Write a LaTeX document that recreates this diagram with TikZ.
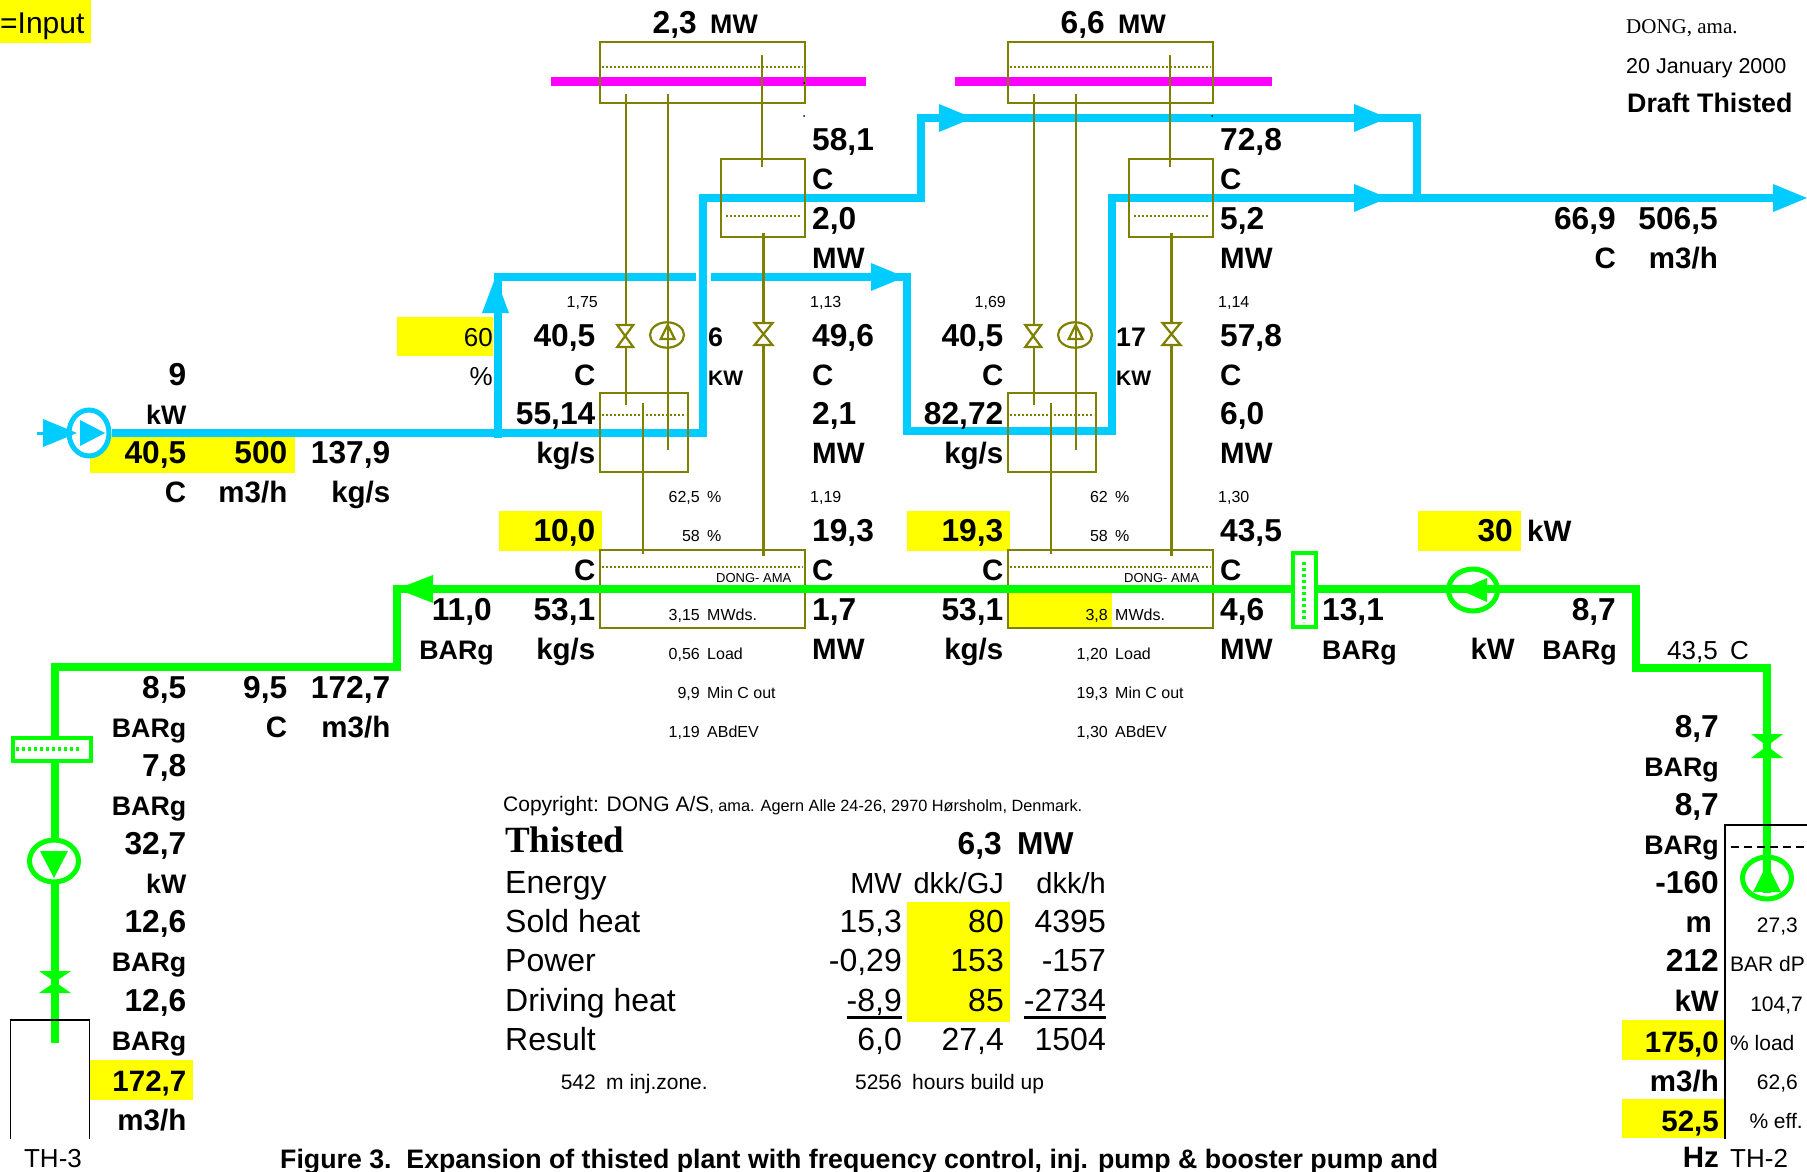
\documentclass[tikz,border=0pt]{standalone}
\usepackage{fontspec}
\setmainfont{Liberation Sans}
\newfontfamily\serifThisted{Liberation Serif}
\usetikzlibrary{shapes.geometric}
\definecolor{pipeBlue}{rgb}{0,0.8,1}
\definecolor{pipeGreen}{rgb}{0,1,0}
\definecolor{boxOlive}{rgb}{0.5,0.5,0}
\definecolor{inputYellow}{rgb}{1,1,0}
\definecolor{barMagenta}{rgb}{1,0,1}
\tikzset{
  lf/.style={anchor=base west},
  rt/.style={anchor=base east},
  ct/.style={anchor=base},
  bigval/.style={inner sep=0pt,font=\bfseries\fontsize{31.7}{36}\selectfont},
  unitval/.style={inner sep=0pt,font=\bfseries\fontsize{29.5}{32}\selectfont},
  smallunit/.style={inner sep=0pt,font=\bfseries\fontsize{26.8}{30}\selectfont},
  midtext/.style={inner sep=0pt,font=\fontsize{26}{30}\selectfont},
  tabletext/.style={inner sep=0pt,font=\fontsize{32}{35}\selectfont},
  headtext/.style={inner sep=0pt,font=\fontsize{29}{35}\selectfont},
  sidetext/.style={inner sep=0pt,font=\fontsize{21}{25}\selectfont},
  smalltext/.style={inner sep=0pt,font=\fontsize{16}{20}\selectfont},
  bluepipe/.style={draw=pipeBlue,line width=8pt,line join=miter},
  greenpipe/.style={draw=pipeGreen,line width=8pt,line join=miter},
  olivebox/.style={draw=boxOlive,line width=2.2pt},
  oliveline/.style={draw=boxOlive,line width=2.2pt},
  olivedots/.style={draw=boxOlive,line width=2pt,dash pattern=on 2pt off 2pt},
  bluepump/.style={ellipse,draw=pipeBlue,line width=5pt,fill=white,minimum width=40pt,minimum height=46pt,inner sep=0pt},
  greenpump/.style={ellipse,draw=pipeGreen,line width=5pt,minimum width=49pt,minimum height=42pt,inner sep=0pt},
}
\begin{document}
\begin{tikzpicture}[x=1pt,y=-1pt]
	\useasboundingbox (0,0) rectangle (1807,1172);
	% yellow input cells
	\foreach \xa/\ya/\xb/\yb in {0/0/91/43, 397/317/493/356, 90/433/295/473, 499/511/602/551, 907/511/1010/551, 1418/511/1521/551, 90/1060/193/1100, 1622/1020/1725/1060, 1622/1099/1725/1138, 907/902/1010/1022, 1008/590/1112/628}
		\fill[inputYellow] (\xa,\ya) rectangle (\xb,\yb);
	% turbine bars
	\fill[barMagenta] (551,77) rectangle (866,86);
	\fill[barMagenta] (955,77) rectangle (1272,86);
	% blue pipes
	\node[bluepump] (pumpI) at (89,433) {};
	\coordinate (blueA) at (703,433);
	\coordinate (blueB) at (703,198);
	\coordinate (blueC) at (921,198);
	\coordinate (blueD) at (921,118);
	\coordinate (blueE) at (1417,118);
	\coordinate (blueF) at (1417,198);
	\coordinate (blueG) at (498,438);
	\coordinate (blueH) at (498,277);
	\coordinate (blueJ) at (696,277);
	\coordinate (blueK) at (711,277);
	\coordinate (blueL) at (907,277);
	\coordinate (blueM) at (907,431);
	\coordinate (blueN) at (1112,431);
	\coordinate (blueP) at (1112,198);
	\coordinate (blueQ) at (1780,198);
	\coordinate (blueIn) at (37,433);
	\draw[bluepipe] (pumpI.east) -- (blueA) -- (blueB) -- (blueC) -- (blueD) -- (blueE) -- (blueF);
	\draw[bluepipe] (blueG) -- (blueH) -- (blueJ);
	\draw[bluepipe] (blueK) -- (blueL) -- (blueM) -- (blueN) -- (blueP) -- (blueQ);
	\draw[draw=pipeBlue,line width=3pt] (blueIn) -- (pumpI.west);
	\foreach \hx/\hy in {43/433, 871/277, 939/118, 1354/118, 1354/198, 1773/198}
		\fill[pipeBlue] (\hx,\hy) ++(0,-14) -- ++(34,14) -- ++(-34,14) -- cycle;
	\fill[pipeBlue] (482,313) -- (495.5,277) -- (509,313) -- cycle;
	\fill[pipeBlue] (80,420) -- (105,433) -- (80,446) -- cycle;
	% heat exchanger sets
	\foreach \ox in {0,408} {
		\begin{scope}[xshift=\ox pt]
			\draw[olivebox] (600,42) rectangle (805,103);
			\draw[olivedots] (602,67) -- (803,67);
			\draw[olivebox] (721,159) rectangle (805,237);
			\draw[olivedots] (726,216) -- (801,216);
			\draw[olivebox] (600,393) rectangle (688,472);
			\draw[olivedots] (602,415) -- (686,415);
			\draw[olivebox] (600,550) rectangle (805,628);
			\draw[olivedots] (602,567) -- (803,567);
			\draw[oliveline] (625.7,94) -- (625.7,405);
			\draw[oliveline] (667.7,94) -- (667.7,450);
			\draw[oliveline] (761.7,55) -- (761.7,167);
			\draw[oliveline] (763.5,233) -- (763.5,556);
			\draw[oliveline] (642.7,403) -- (642.7,554);
			\draw[oliveline,fill=white] (617.2,325) -- (633.2,325) -- (617.2,347) -- (633.2,347) -- cycle;
			\draw[oliveline,fill=white] (754.5,323) -- (772.5,323) -- (754.5,345) -- (772.5,345) -- cycle;
			\draw[oliveline] (667,335) ellipse (17 and 12.7);
			\draw[oliveline] (660.7,339) -- (674.7,339) -- (667.7,325) -- cycle;
			\node[inner sep=0pt,font=\fontsize{13}{15}\selectfont,anchor=base west] (dong\ox) at (716,582) {DONG- AMA};
			\fill (804,116) circle (1);
		\end{scope}
	}
	\fill (804,83) circle (1);
	% green pipes
	\coordinate (greenA) at (397,589);
	\coordinate (greenB) at (397,667);
	\coordinate (greenC) at (55,667);
	\coordinate (greenD) at (55,1043);
	\coordinate (greenE) at (1636,589);
	\coordinate (greenF) at (1636,668);
	\coordinate (greenG) at (1767,668);
	\coordinate (greenH) at (1767,893);
	\draw[greenpipe] (greenD) -- (greenC) -- (greenB) -- (greenA) -- (greenE) -- (greenF) -- (greenG) -- (greenH);
	\fill[pipeGreen] (433,575) -- (397,589) -- (433,603) -- cycle;
	\node[greenpump] (pumpB) at (1473,590) {};
	\fill[pipeGreen] (1487,578) -- (1460,590) -- (1487,602) -- cycle;
	\node[greenpump,fill=white] (pumpH) at (54,861) {};
	\fill[pipeGreen] (40,851) -- (68,851) -- (54,878) -- cycle;
	\node[greenpump] (pumpP) at (1767,878) {};
	\fill[pipeGreen] (1753,892) -- (1781,892) -- (1767,864) -- cycle;
	% green filters and valves
	\draw[draw=pipeGreen,line width=3.5pt,fill=white] (13,738) rectangle (91,761);
	\draw[draw=pipeGreen,line width=3.5pt,dash pattern=on 3pt off 3pt] (16,749) -- (82,749);
	\draw[draw=pipeGreen,line width=3.5pt,fill=white] (1293,553) rectangle (1316,627);
	\draw[draw=pipeGreen,line width=3.5pt,dash pattern=on 3pt off 3pt] (1304,562) -- (1304,622);
	\fill[pipeGreen] (39,971) -- (71,971) -- (39,993) -- (71,993) -- cycle;
	\fill[pipeGreen] (1751,734) -- (1783,734) -- (1751,758) -- (1783,758) -- cycle;
	% wells
	\draw[line width=1.5pt] (10.5,1139) -- (10.5,1020) -- (89.5,1020) -- (89.5,1139);
	\draw[line width=1.5pt] (1725,1139) -- (1725,825) -- (1807,825);
	\draw[line width=1.5pt,dash pattern=on 8pt off 5pt] (1731,847) -- (1807,847);
	% sheet values
	\foreach \x/\k/\a/\t [count=\i] in {186.5/9/rt/9, 186.5/11/rt/{40,5}, 287.5/11/rt/500, 390.5/11/rt/{137,9}, 697/0/rt/{2,3}, 1105/0/rt/{6,6},
		812/3/lf/{58,1}, 812/5/lf/{2,0}, 1220/3/lf/{72,8}, 1220/5/lf/{5,2},
		595.5/8/rt/{40,5}, 595.5/10/rt/{55,14}, 595.5/13/rt/{10,0}, 595.5/15/rt/{53,1},
		1003.5/8/rt/{40,5}, 1003.5/10/rt/{82,72}, 1003.5/13/rt/{19,3}, 1003.5/15/rt/{53,1},
		812/8/lf/{49,6}, 812/10/lf/{2,1}, 812/13/lf/{19,3}, 812/15/lf/{1,7},
		1220/8/lf/{57,8}, 1220/10/lf/{6,0}, 1220/13/lf/{43,5}, 1220/15/lf/{4,6},
		492/15/rt/{11,0}, 1322/15/lf/{13,1}, 1616/15/rt/{8,7}, 1513/13/rt/30,
		1616/5/rt/{66,9}, 1718/5/rt/{506,5}, 186.5/17/rt/{8,5}, 186.5/19/rt/{7,8}, 186.5/21/rt/{32,7}, 186.5/23/rt/{12,6}, 186.5/25/rt/{12,6},
		287.5/17/rt/{9,5}, 390.5/17/rt/{172,7}, 1719/18/rt/{8,7}, 1719/20/rt/{8,7}, 1719/22/rt/-160, 1719/24/rt/212,
		1002/21/rt/{6,3}, 1017/21/lf/MW}
		\node[bigval,\a] (val\i) at (\x,{33.5+39.1*\k}) {\t};
	\foreach \x/\k/\a/\t [count=\i] in {186.5/12/rt/C, 287.5/12/rt/{m3/h}, 390.5/12/rt/{kg/s}, 595.5/9/rt/C, 595.5/11/rt/{kg/s}, 595.5/14/rt/C, 595.5/16/rt/{kg/s},
		1003.5/9/rt/C, 1003.5/11/rt/{kg/s}, 1003.5/14/rt/C, 1003.5/16/rt/{kg/s},
		812/4/lf/C, 812/6/lf/MW, 812/9/lf/C, 812/11/lf/MW, 812/14/lf/C, 812/16/lf/MW,
		1220/4/lf/C, 1220/6/lf/MW, 1220/9/lf/C, 1220/11/lf/MW, 1220/14/lf/C, 1220/16/lf/MW,
		1616/6/rt/C, 1718/6/rt/{m3/h}, 287.5/18/rt/C, 390.5/18/rt/{m3/h}, 186.5/28.06/rt/{m3/h}, 1719/27.06/rt/{m3/h}, 1719/29/rt/Hz, 1712/23/rt/m, 1719/25/rt/kW,
		1515/16/rt/kW, 1527/13/lf/kW, 186.5/27.06/rt/{172,7}, 1719/26.06/rt/{175,0}, 1719/28.07/rt/{52,5}}
		\node[unitval,\a] (unit\i) at (\x,{33.5+39.1*\k}) {\t};
	\foreach \x/\k/\a/\t [count=\i] in {710/0/lf/MW, 1118/0/lf/MW, 708/8/lf/6, 1116/8/lf/17, 186.5/10/rt/kW, 186.5/22/rt/kW, 494/16/rt/BARg, 1322/16/lf/BARg, 1617/16/rt/BARg, 186.5/18/rt/BARg, 186.5/20/rt/BARg, 186.5/24/rt/BARg, 186.5/26/rt/BARg, 1719/19/rt/BARg, 1719/21/rt/BARg}
		\node[smallunit,\a] (sunit\i) at (\x,{33.5+39.1*\k}) {\t};
	\node[smallunit,lf,font=\bfseries\fontsize{21}{25}\selectfont] (kwA) at (708,{33.5+39.1*9}) {KW};
	\node[smallunit,lf,font=\bfseries\fontsize{21}{25}\selectfont] (kwB) at (1116,{33.5+39.1*9}) {KW};
	\foreach \x/\k/\a/\t [count=\i] in {493/8/rt/60, 493/9/rt/\%, 1718/16/rt/{43,5}, 1730/16/lf/C, 53/29/ct/TH-3, 1730/29/lf/TH-2}
		\node[midtext,\a] (mid\i) at (\x,{33.5+39.1*\k}) {\t};
	\foreach \x/\k/\a/\t [count=\i] in {1798/23/rt/{27,3}, 1730/24/lf/BAR dP, 1803/25/rt/{104,7}, 1730/26/lf/\% load, 1798/27/rt/{62,6}, 1803/28/rt/\% eff.,
		596/27/rt/542, 606/27/lf/m inj.zone., 902/27/rt/5256, 912/27/lf/hours build up}
		\node[sidetext,\a] (side\i) at (\x,{33.5+39.1*\k}) {\t};
	\foreach \x/\k/\a/\t [count=\i] in {598/7/rt/{1,75}, 810/7/lf/{1,13}, 1006/7/rt/{1,69}, 1218/7/lf/{1,14}, 810/12/lf/{1,19}, 1218/12/lf/{1,30},
		700/12/rt/{62,5}, 707/12/lf/\%, 700/13/rt/58, 707/13/lf/\%, 700/15/rt/{3,15}, 707/15/lf/MWds., 700/16/rt/{0,56}, 707/16/lf/Load, 700/17/rt/{9,9}, 707/17/lf/Min C out, 700/18/rt/{1,19}, 707/18/lf/ABdEV,
		1108/12/rt/62, 1115/12/lf/\%, 1108/13/rt/58, 1115/13/lf/\%, 1108/15/rt/{3,8}, 1115/15/lf/MWds., 1108/16/rt/{1,20}, 1115/16/lf/Load, 1108/17/rt/{19,3}, 1115/17/lf/Min C out, 1108/18/rt/{1,30}, 1115/18/lf/ABdEV}
		\node[smalltext,\a] (small\i) at (\x,{33.5+39.1*\k}) {\t};
	% economy table
	\foreach \x/\k/\a/\t [count=\i] in {505/22/lf/Energy, 505/23/lf/Sold heat, 505/24/lf/Power, 505/25/lf/Driving heat, 505/26/lf/Result,
		902/23/rt/{15,3}, 1004/23/rt/80, 1106/23/rt/4395, 902/24/rt/{-0,29}, 1004/24/rt/153, 1106/24/rt/-157,
		902/25/rt/{-8,9}, 1004/25/rt/85, 1106/25/rt/-2734, 902/26/rt/{6,0}, 1004/26/rt/{27,4}, 1106/26/rt/1504}
		\node[tabletext,\a] (cell\i) at (\x,{33.5+39.1*\k}) {\t};
	\node[headtext,rt] (headA) at (902,{33.5+39.1*22}) {MW};
	\node[headtext,rt] (headB) at (1004,{33.5+39.1*22}) {dkk/GJ};
	\node[headtext,rt] (headC) at (1106,{33.5+39.1*22}) {dkk/h};
	\draw[line width=3pt] (846.5,1017) -- (902,1017);
	\draw[line width=3pt] (1024,1017) -- (1106,1017);
	% headings
	\node[inner sep=0pt,lf,font=\fontsize{30}{34}\selectfont] (inputKey) at (0,34) {=Input};
	\node[inner sep=0pt,lf,font=\serifThisted\fontsize{21}{26}\selectfont] (signA) at (1626,34) {DONG, ama.};
	\node[inner sep=0pt,lf,font=\fontsize{21.5}{26}\selectfont] (signB) at (1626,74) {20 January 2000};
	\node[inner sep=0pt,lf,font=\bfseries\fontsize{26.8}{31}\selectfont] (signC) at (1627,112) {Draft Thisted};
	\node[inner sep=0pt,lf,font=\fontsize{21}{25}\selectfont] (copyA) at (503,811) {Copyright: DONG A/S{\fontsize{16.3}{20}\selectfont, ama. Agern Alle 24-26, 2970 Hørsholm, Denmark.}};
	\node[inner sep=0pt,lf,font=\serifThisted\bfseries\fontsize{37}{40}\selectfont] (placeName) at (505,852) {Thisted};
	\node[inner sep=0pt,lf,font=\bfseries\fontsize{26.73}{31}\selectfont] (figCaption) at (280,1168) {Figure 3.\ \ Expansion of thisted plant with frequency control, inj. pump \& booster pump and};
\end{tikzpicture}
\end{document}
